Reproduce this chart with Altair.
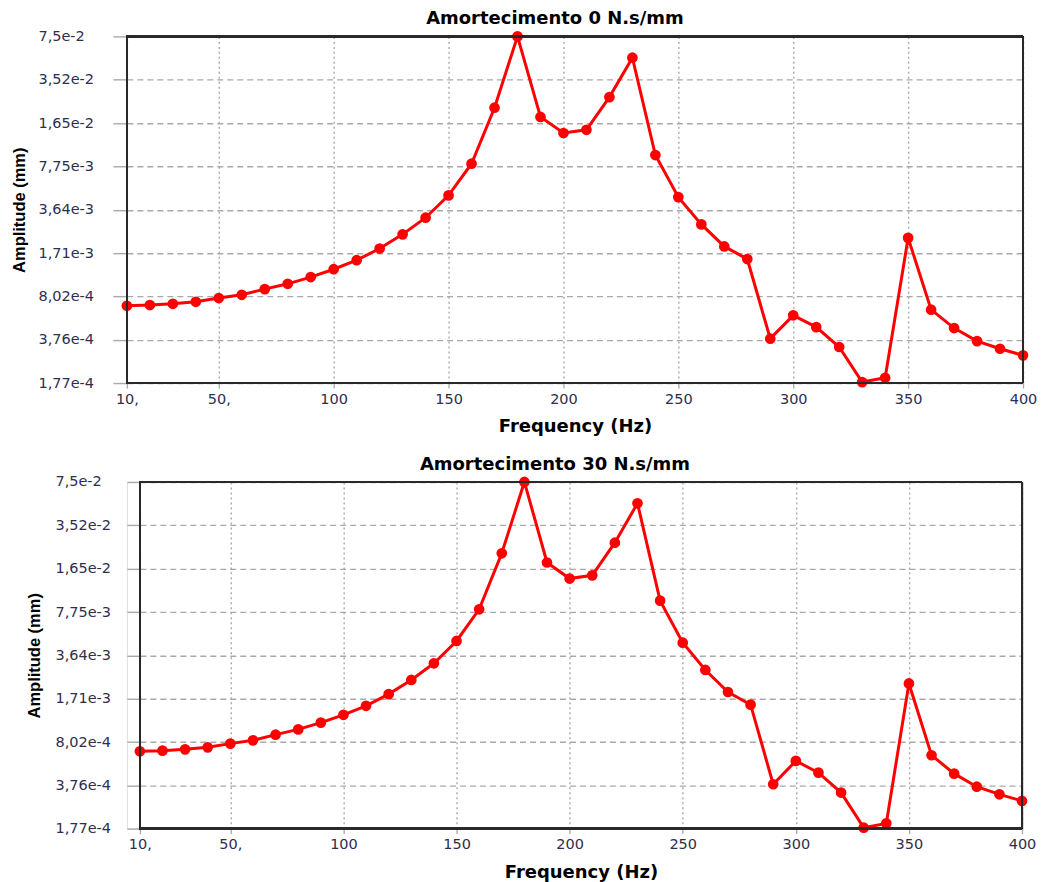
import altair as alt
import pandas as pd

# ---- data ----
freq = [10, 20, 30, 40, 50, 60, 70, 80, 90, 100,
        110, 120, 130, 140, 150, 160, 170, 180, 190, 200,
        210, 220, 230, 240, 250, 260, 270, 280, 290, 300,
        310, 320, 330, 340, 350, 360, 370, 380, 390, 400]

amp_0 = [6.82e-4, 6.90e-4, 7.06e-4, 7.31e-4, 7.80e-4, 8.26e-4, 9.12e-4, 1.00e-3, 1.125e-3, 1.29e-3,
         1.51e-3, 1.85e-3, 2.37e-3, 3.17e-3, 4.68e-3, 8.13e-3, 2.16e-2, 7.5e-2, 1.84e-2, 1.39e-2,
         1.47e-2, 2.60e-2, 5.17e-2, 9.46e-3, 4.54e-3, 2.82e-3, 1.92e-3, 1.54e-3, 3.84e-4, 5.77e-4,
         4.70e-4, 3.32e-4, 1.80e-4, 1.94e-4, 2.23e-3, 6.37e-4, 4.62e-4, 3.68e-4, 3.22e-4, 2.87e-4]

amp_30 = [6.82e-4, 6.90e-4, 7.06e-4, 7.31e-4, 7.80e-4, 8.26e-4, 9.12e-4, 1.00e-3, 1.125e-3, 1.29e-3,
          1.51e-3, 1.85e-3, 2.37e-3, 3.17e-3, 4.68e-3, 8.13e-3, 2.16e-2, 7.5e-2, 1.84e-2, 1.39e-2,
          1.47e-2, 2.60e-2, 5.17e-2, 9.46e-3, 4.54e-3, 2.82e-3, 1.92e-3, 1.54e-3, 3.84e-4, 5.77e-4,
          4.70e-4, 3.32e-4, 1.80e-4, 1.94e-4, 2.23e-3, 6.37e-4, 4.62e-4, 3.68e-4, 3.22e-4, 2.87e-4]

x_ticks = [10, 50, 100, 150, 200, 250, 300, 350, 400]
x_labels = ["10,", "50,", "100", "150", "200", "250", "300", "350", "400"]

y_ticks = [1.77e-4, 3.76e-4, 8.02e-4, 1.71e-3, 3.64e-3, 7.75e-3, 1.65e-2, 3.52e-2, 7.5e-2]
y_labels = ["1,77e-4", "3,76e-4", "8,02e-4", "1,71e-3", "3,64e-3", "7,75e-3", "1,65e-2", "3,52e-2", "7,5e-2"]

titles = ["Amortecimento 0 N.s/mm", "Amortecimento 30 N.s/mm"]

x_dom = [10, 400]
y_dom = [1.77e-4, 7.5e-2]


def lookup_expr(labels, values):
    lab = "[" + ",".join("'" + s + "'" for s in labels) + "]"
    val = "[" + ",".join(repr(v) for v in values) + "]"
    return lab + "[indexof(" + val + ", datum.value)]"


LABEL_FONT = "DejaVu Sans"
LABEL_COLOR = "#2e2e4e"
GRID = "#a9a9a9"
RED = "#ff0000"
FRAME = "#2a2a2a"


def panel(title, amp, width, x_shift, y_axis_offset, label_pad, tick_size, title_x):
    df = pd.DataFrame({"freq": freq, "amp": amp})
    H = 347
    xs = alt.Scale(domain=x_dom, range=[x_shift, width - 1 if x_shift else width], nice=False, zero=False)
    ys = alt.Scale(type="log", domain=y_dom, nice=False)
    xaxis = alt.Axis(
        values=x_ticks, labelExpr=lookup_expr(x_labels, x_ticks),
        labelFont=LABEL_FONT, labelFontSize=14.5, labelColor=LABEL_COLOR,
        labelPadding=4, labelFlush=False, labelOverlap=False,
        tickSize=5, tickColor=GRID, tickWidth=1.3, domain=False,
        grid=True, gridDash=[2, 3], gridColor=GRID, gridWidth=1.4, gridOpacity=1,
        title="Frequency (Hz)", titleFont=LABEL_FONT, titleFontSize=18,
        titleFontWeight="bold", titleColor="black", titlePadding=12,
    )
    yaxis = alt.Axis(
        values=y_ticks, labelExpr=lookup_expr(y_labels, y_ticks),
        labelFont=LABEL_FONT, labelFontSize=14.5, labelColor=LABEL_COLOR,
        labelAlign="left", labelBaseline="middle", labelPadding=label_pad,
        labelFlush=False, labelOverlap=False,
        tickSize=tick_size, tickColor=GRID, tickWidth=1.4, domain=False,
        offset=y_axis_offset,
        grid=True, gridDash=[6, 4], gridColor=GRID, gridWidth=1.4, gridOpacity=1,
        title="Amplitude (mm)", titleFont="Liberation Sans", titleFontSize=16.5,
        titleFontWeight="bold", titleColor="black", titleX=title_x, titleY=H / 2,
        titleBaseline="middle", titleAngle=270, titleAlign="center",
    )
    base = alt.Chart(df)
    line = base.mark_line(color=RED, strokeWidth=3).encode(
        x=alt.X("freq:Q", scale=xs, axis=xaxis),
        y=alt.Y("amp:Q", scale=ys, axis=yaxis),
    )
    pts = base.mark_point(filled=True, size=115, color=RED, opacity=1, shape="circle").encode(
        x="freq:Q", y="amp:Q"
    )
    fr = dict(color=FRAME, strokeWidth=1.6)
    left = base.mark_rule(**fr).encode(x=alt.datum(x_dom[0]), y=alt.datum(y_dom[0]), y2=alt.datum(y_dom[1]))
    right = base.mark_rule(**fr).encode(x=alt.datum(x_dom[1]), y=alt.datum(y_dom[0]), y2=alt.datum(y_dom[1]))
    top = base.mark_rule(**fr).encode(x=alt.datum(x_dom[0]), x2=alt.datum(x_dom[1]), y=alt.datum(y_dom[1]))
    bot = base.mark_rule(**fr).encode(x=alt.datum(x_dom[0]), x2=alt.datum(x_dom[1]), y=alt.datum(y_dom[0]))
    return alt.layer(line, pts, left, right, top, bot).properties(
        width=width, height=H,
        title=alt.TitleParams(title, font=LABEL_FONT, fontSize=18, fontWeight="bold",
                              color="black", offset=0, dx=-20, anchor="middle"),
    )


top_panel = panel(titles[0], amp_0, 897, 0, 0, 75, 14, -107)
bottom_panel = panel(titles[1], amp_30, 897, 13, -13, 72, 13, -105)

chart = alt.vconcat(top_panel, bottom_panel, spacing=19).properties(
    padding={"left": 11, "top": 9, "right": 4, "bottom": 2}
).configure_view(stroke=None).configure(background="white")

chart.save("out.html", embed_options={"renderer": "svg", "actions": False})
